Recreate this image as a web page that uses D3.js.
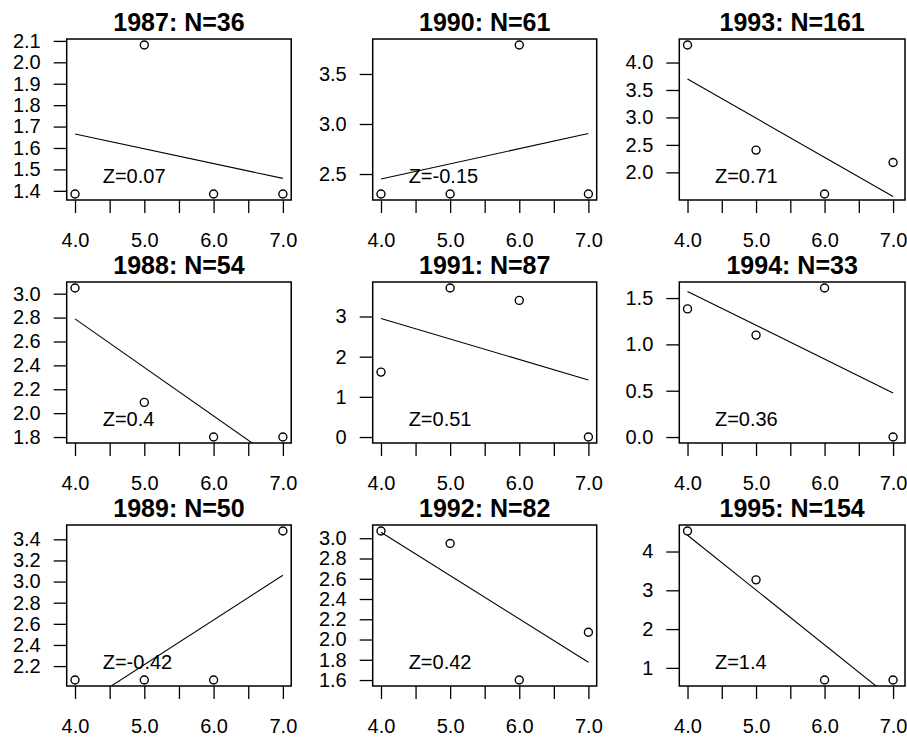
<!DOCTYPE html>
<html>
<head>
<meta charset="utf-8">
<script src="https://cdn.jsdelivr.net/npm/d3@7"></script>
<style>
  html, body { margin: 0; padding: 0; background: #fff; }
  svg { display: block; font-family: "Liberation Sans", Arial, sans-serif; }
</style>
</head>
<body>
<svg id="chart" width="907" height="737"></svg>
<script>
// Panels are laid out column by column: 1987-1989, 1990-1992, 1993-1995
const years = [1987, 1988, 1989, 1990, 1991, 1992, 1993, 1994, 1995];
const nObs = [36, 54, 50, 61, 87, 82, 161, 33, 154];
const zLabels = ["0.07", "0.4", "-0.42", "-0.15", "0.51", "0.42", "0.71", "0.36", "1.4"];

// shared x positions of the four group means
const xValues = [4, 5, 6, 7];
const xTickValues = [4, 4.5, 5, 5.5, 6, 6.5, 7];
const xTickLabels = ["4.0", "", "5.0", "", "6.0", "", "7.0"];

// group means per year
const y1987 = [1.385, 2.081, 1.385, 1.385];
const y1988 = [3.048, 2.09, 1.80, 1.80];
const y1989 = [2.068, 2.068, 2.068, 3.479];
const y1990 = [2.30, 2.30, 3.79, 2.30];
const y1991 = [1.616, 3.71, 3.40, 0.0];
const y1992 = [3.072, 2.948, 1.60, 2.072];
const y1993 = [4.32, 2.405, 1.605, 2.18];
const y1994 = [1.383, 1.10, 1.609, 0.0];
const y1995 = [4.53, 3.27, 0.686, 0.686];
const yValues = [y1987, y1988, y1989, y1990, y1991, y1992, y1993, y1994, y1995];

// fitted trend line values at x = 4 and x = 7
const fit1987 = [1.665, 1.458];
const fit1988 = [2.789, 1.57];
const fit1989 = [1.79, 3.06];
const fit1990 = [2.45, 2.905];
const fit1991 = [2.95, 1.42];
const fit1992 = [3.06, 1.775];
const fit1993 = [3.70, 1.56];
const fit1994 = [1.572, 0.476];
const fit1995 = [4.42, 0.18];
const fits = [fit1987, fit1988, fit1989, fit1990, fit1991, fit1992, fit1993, fit1994, fit1995];

// y tick labels per year
const yTicks = [
  ["1.4", "1.5", "1.6", "1.7", "1.8", "1.9", "2.0", "2.1"],
  ["1.8", "2.0", "2.2", "2.4", "2.6", "2.8", "3.0"],
  ["2.2", "2.4", "2.6", "2.8", "3.0", "3.2", "3.4"],
  ["2.5", "3.0", "3.5"],
  ["0", "1", "2", "3"],
  ["1.6", "1.8", "2.0", "2.2", "2.4", "2.6", "2.8", "3.0"],
  ["2.0", "2.5", "3.0", "3.5", "4.0"],
  ["0.0", "0.5", "1.0", "1.5"],
  ["1", "2", "3", "4"]
];

// layout
const boxLeft = [66.7, 372.7, 679.3];
const boxWidth = [224.5, 224, 225.7];
const scaleWidth = [224.5, 224, 222];   // last column's scale is a little tighter
const boxH = 161;
const rowTop = r => 39 + r * 243;
const tickLen = 13;

const svg = d3.select("#chart");

// pad a range by 4% on each side
const padded = ext => {
  const d = (ext[1] - ext[0]) * 0.04;
  return [ext[0] - d, ext[1] + d];
};

years.forEach((yr, i) => {
  const col = Math.floor(i / 3), row = i % 3;
  const left = boxLeft[col], top = rowTop(row), boxW = boxWidth[col];
  const ys = yValues[i];

  const x = d3.scaleLinear().domain(padded([4, 7])).range([left, left + scaleWidth[col]]);
  const y = d3.scaleLinear().domain(padded(d3.extent(ys))).range([top + boxH, top]);

  const g = svg.append("g");

  // clip region for the plotting area
  const clipId = "clip" + yr;
  svg.append("clipPath").attr("id", clipId)
    .append("rect").attr("x", left).attr("y", top).attr("width", boxW).attr("height", boxH);

  // title
  g.append("text")
    .attr("x", left + boxW / 2).attr("y", top - 8)
    .attr("text-anchor", "middle")
    .attr("font-size", 25).attr("font-weight", "bold").attr("fill", "#000")
    .text(`${yr}: N=${nObs[i]}`);

  // x axis
  const xAxis = d3.axisBottom(x)
    .tickValues(xTickValues)
    .tickFormat((d, k) => xTickLabels[k])
    .tickSize(tickLen).tickPadding(20);
  const gx = g.append("g").attr("transform", `translate(0,${top + boxH})`).call(xAxis);
  gx.select(".domain").remove();
  gx.selectAll("line").attr("stroke", "#000").attr("stroke-width", 1.3);
  gx.selectAll("text").attr("font-size", 20).attr("fill", "#000").attr("font-family", null);

  // y axis
  const yt = yTicks[i];
  const yAxis = d3.axisLeft(y)
    .tickValues(yt.map(Number))
    .tickFormat((d, k) => yt[k])
    .tickSize(tickLen).tickPadding(13);
  const gy = g.append("g").attr("transform", `translate(${left},0)`).call(yAxis);
  gy.select(".domain").remove();
  gy.selectAll("line").attr("stroke", "#000").attr("stroke-width", 1.3);
  gy.selectAll("text").attr("font-size", 20).attr("fill", "#000").attr("font-family", null);

  // plot box
  g.append("rect")
    .attr("x", left).attr("y", top).attr("width", boxW).attr("height", boxH)
    .attr("fill", "none").attr("stroke", "#000").attr("stroke-width", 1.5);

  const inner = g.append("g").attr("clip-path", `url(#${clipId})`);

  // group means
  inner.selectAll("circle")
    .data(xValues.map((xv, k) => [xv, ys[k]]))
    .join("circle")
    .attr("cx", d => x(d[0])).attr("cy", d => y(d[1]))
    .attr("r", 4)
    .attr("fill", "none").attr("stroke", "#000").attr("stroke-width", 1.4);

  // trend line
  const f = fits[i];
  inner.append("path")
    .datum([[4, f[0]], [7, f[1]]])
    .attr("d", d3.line().x(d => x(d[0])).y(d => y(d[1])))
    .attr("fill", "none").attr("stroke", "#000").attr("stroke-width", 1.1);

  // Z statistic label
  const yExt = d3.extent(ys);
  g.append("text")
    .attr("x", x(4.4))
    .attr("y", y(yExt[0] + 0.12 * (yExt[1] - yExt[0])))
    .attr("dy", "0.35em")
    .attr("font-size", 20).attr("fill", "#000")
    .text(`Z=${zLabels[i]}`);
});
</script>
</body>
</html>
